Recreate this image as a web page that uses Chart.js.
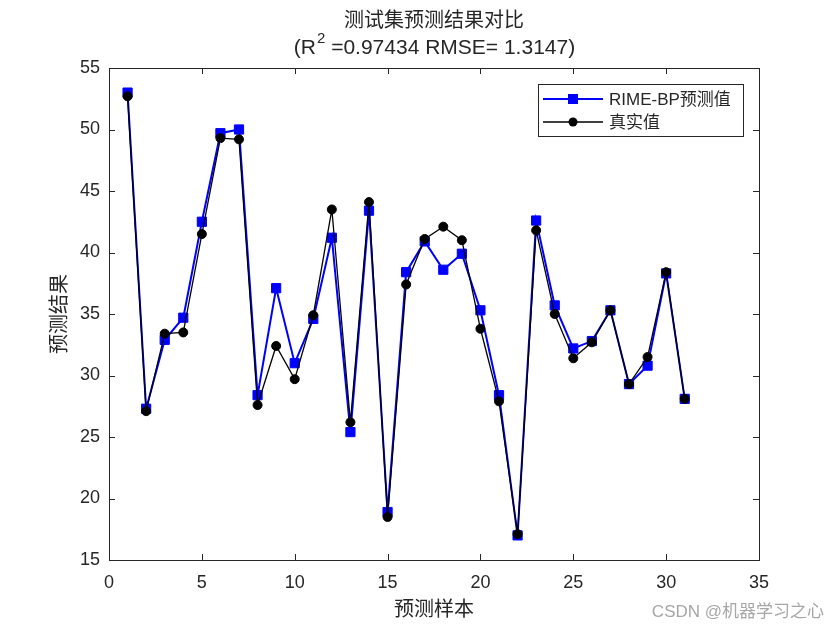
<!DOCTYPE html>
<html lang="zh">
<head>
<meta charset="UTF-8">
<title>测试集预测结果对比</title>
<script src="https://cdn.jsdelivr.net/npm/chart.js"></script>
<style>
    body { margin: 0; background: #ffffff; }
    #wrap { width: 840px; height: 630px; }
</style>
</head>
<body>
<div id="wrap"><canvas id="chart" width="840" height="630"></canvas></div>
<script>
// 样本编号和两条曲线的数据
const samples = [1, 2, 3, 4, 5, 6, 7, 8, 9, 10, 11, 12, 13, 14, 15, 16,
                 17, 18, 19, 20, 21, 22, 23, 24, 25, 26, 27, 28, 29, 30, 31];
const predicted = [53.0, 27.3, 32.9, 34.7, 42.5, 49.7, 50.0, 28.4, 37.1, 31.0,
                   34.6, 41.2, 25.4, 43.4, 18.9, 38.4, 40.9, 38.6, 39.9, 35.3,
                   28.4, 17.0, 42.6, 35.7, 32.2, 32.8, 35.3, 29.3, 30.8, 38.3, 28.1];
const actual = [52.7, 27.1, 33.4, 33.5, 41.5, 49.3, 49.2, 27.6, 32.4, 29.7,
                34.9, 43.5, 26.2, 44.1, 18.5, 37.4, 41.1, 42.1, 41.0, 33.8,
                27.9, 17.1, 41.8, 35.0, 31.4, 32.7, 35.3, 29.3, 31.5, 38.4, 28.1];
const xTickValues = [0, 5, 10, 15, 20, 25, 30, 35];
const yTickValues = [15, 20, 25, 30, 35, 40, 45, 50, 55];
const seriesNames = ['RIME-BP预测值', '真实值'];

const axisColor = '#262626';
const latin = '"Liberation Sans", Arial, sans-serif';
const cjk = '"Liberation Sans", "Noto Sans CJK SC", sans-serif';

// 边框 + 向内的刻度线（四边）
const framePlugin = {
    id: 'frame',
    afterDatasetsDraw(chart) {
        const ctx = chart.ctx;
        const a = chart.chartArea;
        const xs = chart.scales.x, ys = chart.scales.y;
        ctx.save();
        ctx.strokeStyle = axisColor;
        ctx.lineWidth = 1;
        ctx.strokeRect(Math.round(a.left) + 0.5, Math.round(a.top) + 0.5,
                       Math.round(a.right - a.left), Math.round(a.bottom - a.top));
        ctx.beginPath();
        xTickValues.forEach(v => {
            const px = Math.round(xs.getPixelForValue(v)) + 0.5;
            ctx.moveTo(px, a.bottom); ctx.lineTo(px, a.bottom - 6);
            ctx.moveTo(px, a.top); ctx.lineTo(px, a.top + 6);
        });
        yTickValues.forEach(v => {
            const py = Math.round(ys.getPixelForValue(v)) + 0.5;
            ctx.moveTo(a.left, py); ctx.lineTo(a.left + 6, py);
            ctx.moveTo(a.right, py); ctx.lineTo(a.right - 6, py);
        });
        ctx.stroke();
        ctx.restore();
    },
    afterDraw(chart) {
        const ctx = chart.ctx;
        const a = chart.chartArea;
        const cx = (a.left + a.right) / 2;
        ctx.save();
        ctx.fillStyle = axisColor;
        ctx.textBaseline = 'alphabetic';

        // 标题第一行
        ctx.font = '20px ' + cjk;
        ctx.textAlign = 'center';
        ctx.fillText('测试集预测结果对比', cx, 27);

        // 标题第二行，R 后面带上标 2
        const parts = ['(R', '2', ' =0.97434 RMSE= 1.3147)'];
        ctx.font = '21px ' + latin;
        const w0 = ctx.measureText(parts[0]).width;
        const w2 = ctx.measureText(parts[2]).width;
        ctx.font = '15px ' + latin;
        const w1 = ctx.measureText(parts[1]).width;
        let x = cx - (w0 + w1 + w2) / 2;
        ctx.textAlign = 'left';
        ctx.font = '21px ' + latin;
        ctx.fillText(parts[0], x, 54);
        x += w0;
        ctx.font = '15px ' + latin;
        ctx.fillText(parts[1], x + 1, 43);
        x += w1 + 1;
        ctx.font = '21px ' + latin;
        ctx.fillText(parts[2], x, 54);

        // 图例
        const lx = 538, ly = 84, lw = 205, lh = 52;
        ctx.fillStyle = '#ffffff';
        ctx.fillRect(lx, ly, lw, lh);
        ctx.strokeStyle = axisColor;
        ctx.lineWidth = 1;
        ctx.strokeRect(lx + 0.5, ly + 0.5, lw, lh);
        chart.data.datasets.forEach((ds, i) => {
            const yy = ly + 15 + i * 23;
            ctx.strokeStyle = ds.borderColor;
            ctx.lineWidth = ds.borderWidth;
            ctx.beginPath();
            ctx.moveTo(543, yy); ctx.lineTo(603, yy);
            ctx.stroke();
            ctx.fillStyle = ds.pointBackgroundColor;
            if (ds.pointStyle === 'rect') {
                ctx.fillRect(573 - 5, yy - 5, 10, 10);
            } else {
                ctx.beginPath();
                ctx.arc(573, yy, 4.5, 0, Math.PI * 2);
                ctx.fill();
            }
            ctx.fillStyle = axisColor;
            ctx.font = '17px ' + cjk;
            ctx.textBaseline = 'middle';
            ctx.fillText(seriesNames[i], 609, yy + 1);
        });

        // 水印
        ctx.fillStyle = '#a6a6a6';
        ctx.font = '17px ' + cjk;
        ctx.textAlign = 'right';
        ctx.textBaseline = 'middle';
        ctx.fillText('CSDN @机器学习之心', 824, 612);
        ctx.restore();
    }
};

const ctx = document.getElementById('chart').getContext('2d');
new Chart(ctx, {
    type: 'line',
    data: {
        datasets: [{
            label: seriesNames[0],
            data: samples.map((s, i) => ({ x: s, y: predicted[i] })),
            borderColor: '#0000ff',
            backgroundColor: '#0000ff',
            pointBackgroundColor: '#0000ff',
            pointBorderColor: '#0000ff',
            borderWidth: 2,
            pointStyle: 'rect',
            pointRadius: 6.5,
            pointBorderWidth: 1,
            tension: 0,
            order: 1
        }, {
            label: seriesNames[1],
            data: samples.map((s, i) => ({ x: s, y: actual[i] })),
            borderColor: '#000000',
            backgroundColor: '#000000',
            pointBackgroundColor: '#000000',
            pointBorderColor: '#000000',
            borderWidth: 1.3,
            pointStyle: 'circle',
            pointRadius: 4.5,
            pointBorderWidth: 1,
            tension: 0,
            order: 0
        }]
    },
    options: {
        responsive: false,
        animation: false,
        devicePixelRatio: 1,
        layout: { padding: { left: 0, right: 81, top: 68, bottom: 0 } },
        plugins: {
            legend: { display: false },
            tooltip: { enabled: false }
        },
        scales: {
            x: {
                type: 'linear',
                min: 0, max: 35,
                afterBuildTicks: s => { s.ticks = xTickValues.map(v => ({ value: v })); },
                afterFit: s => { s.height = 70; },
                grid: { display: false, drawTicks: false },
                border: { display: false },
                ticks: { color: axisColor, padding: 12, font: { family: latin, size: 18 }, maxRotation: 0 },
                title: {
                    display: true, text: '预测样本', color: axisColor,
                    font: { family: cjk, size: 20 }, padding: { top: 0, bottom: 8 }
                }
            },
            y: {
                type: 'linear',
                min: 15, max: 55,
                afterBuildTicks: s => { s.ticks = yTickValues.map(v => ({ value: v })); },
                afterFit: s => { s.width = 109; },
                grid: { display: false, drawTicks: false },
                border: { display: false },
                ticks: { color: axisColor, padding: 9, font: { family: latin, size: 18 } },
                title: {
                    display: true, text: '预测结果', color: axisColor,
                    font: { family: cjk, size: 20 }, padding: { top: 48, bottom: 0 }
                }
            }
        }
    },
    plugins: [framePlugin]
});
</script>
</body>
</html>
